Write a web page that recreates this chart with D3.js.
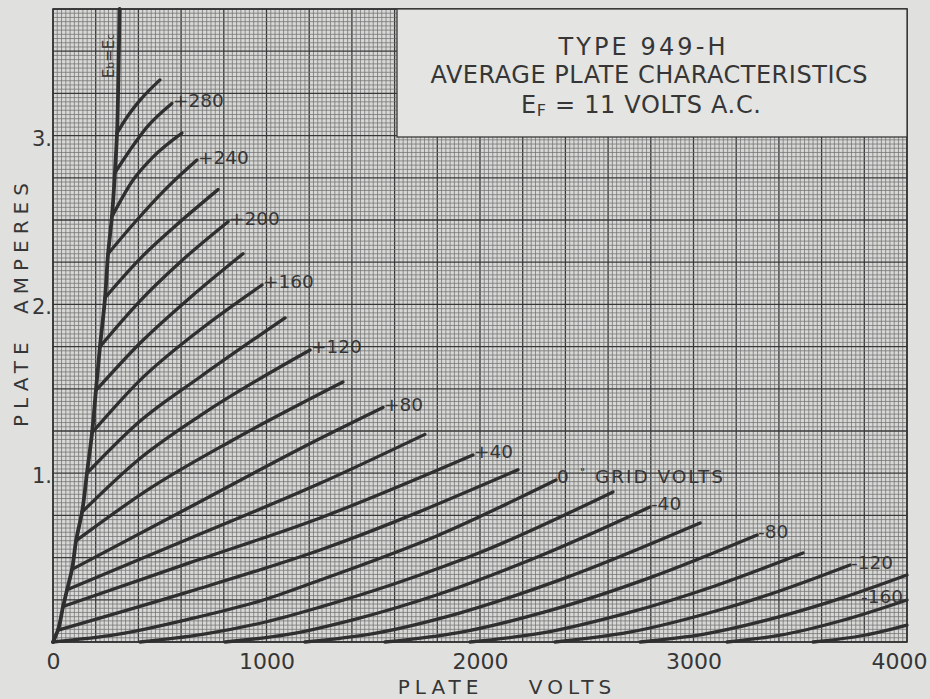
<!DOCTYPE html>
<html><head><meta charset="utf-8">
<script src="https://cdn.jsdelivr.net/npm/d3@7"></script>
<style>
html,body{margin:0;padding:0;background:#e0e0de;}
svg{display:block;}
text{font-family:"DejaVu Sans",sans-serif;fill:#363636;}
</style></head><body>
<svg id="chart" width="930" height="699"></svg>
<script>
// ---------- data (plate volts, plate amperes) ----------
const xTickValues = [0, 1000, 2000, 3000, 4000];
const yTickValues = [1, 2, 3];
const titleLines = ["TYPE 949-H", "AVERAGE PLATE CHARACTERISTICS"];
const filamentLine = ["E", "F", " = 11 VOLTS A.C."];
const xAxisTitle = "PLATE VOLTS";
const yAxisTitle = "PLATE AMPERES";

// locus Eb = Ec
const ebEcLine = [[0,0],[23,0.07],[47,0.21],[66,0.31],[89,0.43],[108,0.60],[136,0.77],[159,1.00],[183,1.24],[201,1.49],[220,1.75],[244,2.04],[258,2.30],[276,2.52],[290,2.78],[300,3.015],[306,3.33],[312,3.75]];

// positive grid curves
const curve_p300 = [[300,3.015],[347,3.11],[408,3.21],[501,3.33]];
const curve_p280 = [[290,2.78],[361,2.915],[440,3.05],[557,3.19]];
const curve_p260 = [[276,2.52],[375,2.737],[468,2.873],[604,3.015]];
const curve_p240 = [[258,2.30],[393,2.50],[525,2.68],[674,2.855]];
const curve_p220 = [[244,2.04],[407,2.27],[560,2.45],[773,2.68]];
const curve_p200 = [[220,1.75],[407,2.02],[595,2.25],[820,2.49]];
const curve_p180 = [[201,1.49],[407,1.77],[642,2.04],[890,2.30]];
const curve_p160 = [[183,1.24],[407,1.55],[689,1.85],[979,2.115]];
const curve_p140 = [[159,1.00],[400,1.30],[689,1.57],[1087,1.92]];
const curve_p120 = [[136,0.77],[400,1.08],[700,1.35],[1204,1.73]];
const curve_p100 = [[108,0.60],[454,0.91],[843,1.197],[1358,1.54]];
const curve_p80  = [[89,0.43],[642,0.80],[1237,1.197],[1546,1.39]];
const curve_p60  = [[66,0.31],[642,0.615],[1251,0.94],[1742,1.23]];
const curve_p40  = [[47,0.21],[642,0.47],[1251,0.735],[1967,1.108]];
const curve_p20  = [[23,0.07],[642,0.30],[1251,0.545],[2178,1.02]];
const curve_0    = [[0,0],[300,0.045],[642,0.137],[1000,0.255],[1251,0.367],[1800,0.63],[2356,0.96]];
// negative grid curves
const curve_n20  = [[408,0],[700,0.045],[1000,0.12],[1251,0.207],[1600,0.345],[2000,0.53],[2623,0.889]];
const curve_n40  = [[806,0],[1100,0.045],[1400,0.13],[1800,0.28],[2300,0.52],[2796,0.80]];
const curve_n60  = [[1180,0],[1500,0.05],[1900,0.17],[2400,0.38],[3031,0.705]];
const curve_n80  = [[1555,0],[1900,0.056],[2300,0.177],[2800,0.383],[3298,0.634]];
const curve_n100 = [[1953,0],[2300,0.055],[2700,0.175],[3100,0.332],[3513,0.527]];
const curve_n120 = [[2351,0],[2700,0.058],[3100,0.182],[3400,0.301],[3733,0.456]];
const curve_n140 = [[2750,0],[3050,0.047],[3400,0.149],[3700,0.263],[4000,0.397]];
const curve_n160 = [[3157,0],[3400,0.039],[3700,0.129],[4000,0.249]];
const curve_n180 = [[3560,0],[3800,0.04],[4000,0.10]];

const gridVolts = [300,280,260,240,220,200,180,160,140,120,100,80,60,40,20,0,-20,-40,-60,-80,-100,-120,-140,-160,-180];
const curveData = [curve_p300,curve_p280,curve_p260,curve_p240,curve_p220,curve_p200,curve_p180,curve_p160,curve_p140,curve_p120,curve_p100,curve_p80,curve_p60,curve_p40,curve_p20,curve_0,curve_n20,curve_n40,curve_n60,curve_n80,curve_n100,curve_n120,curve_n140,curve_n160,curve_n180];

const labelGrids = [280,240,200,160,120,80,40,0,-40,-80,-120,-160];
const labelTexts = ["+280","+240","+200","+160","+120","+80","+40","0","-40","-80","-120","-160"];

// ---------- drawing ----------
const svg = d3.select("#chart");
const L = 53, R = 907, T = 9, B = 642;
const x = d3.scaleLinear().domain([0,4000]).range([L,R]);
const y = d3.scaleLinear().domain([0,3.75]).range([B,T]);

// graph paper
svg.append("rect").attr("x",L).attr("y",T).attr("width",R-L).attr("height",B-T).attr("fill","#d8d8d6");
const g = svg.append("g");
d3.range(0,201).forEach(i=>{
  const xx=x(i*20);
  g.append("line").attr("x1",xx).attr("x2",xx).attr("y1",T).attr("y2",B)
   .attr("stroke", i%10===0?"#383838":"#727272")
   .attr("stroke-width", i%10===0?1.3:0.75);
});
d3.range(0,151).forEach(i=>{
  const yy=y(i*0.025);
  g.append("line").attr("y1",yy).attr("y2",yy).attr("x1",L).attr("x2",R)
   .attr("stroke", i%10===0?"#383838":"#727272")
   .attr("stroke-width", i%10===0?1.3:0.75);
});
svg.append("rect").attr("x",L).attr("y",T).attr("width",R-L).attr("height",B-T)
  .attr("fill","none").attr("stroke","#333").attr("stroke-width",1.6);

// title box
svg.append("rect").attr("x",397).attr("y",T).attr("width",R-397).attr("height",128)
  .attr("fill","#e4e4e2").attr("stroke","#3a3a3a").attr("stroke-width",1.3);
svg.append("text").attr("x",642).attr("y",55).attr("text-anchor","middle")
  .attr("font-size",24).attr("textLength",167).attr("lengthAdjust","spacing").text(titleLines[0]);
svg.append("text").attr("x",649).attr("y",83).attr("text-anchor","middle")
  .attr("font-size",24).attr("textLength",437).attr("lengthAdjust","spacing").text(titleLines[1]);
const t3 = svg.append("text").attr("x",641).attr("y",113).attr("text-anchor","middle")
  .attr("font-size",24).attr("textLength",240).attr("lengthAdjust","spacing");
t3.append("tspan").text(filamentLine[0]);
t3.append("tspan").attr("font-size",16).attr("dy",3).text(filamentLine[1]);
t3.append("tspan").attr("dy",-3).text(filamentLine[2]);

// curves
const line = d3.line().x(d=>x(d[0])).y(d=>y(d[1])).curve(d3.curveMonotoneX);
const curvesG = svg.append("g").attr("fill","none").attr("stroke","#2f2f2f")
  .attr("stroke-width",3.3).attr("stroke-linecap","round").attr("stroke-linejoin","round");
curveData.forEach((pts,i)=>{
  curvesG.append("path").attr("d",line(pts)).attr("data-grid",gridVolts[i]);
});
const lineY = d3.line().x(d=>x(d[0])).y(d=>y(d[1])).curve(d3.curveMonotoneY);
curvesG.append("path").attr("d",lineY(ebEcLine)).attr("stroke-width",3.8);

// Eb = Ec label
const eb = svg.append("text").attr("transform","translate(114,56) rotate(-90)")
  .attr("text-anchor","middle").attr("font-size",15);
eb.append("tspan").text("E");
eb.append("tspan").attr("font-size",11).text("b");
eb.append("tspan").text("=E");
eb.append("tspan").attr("font-size",11).text("c");

// curve labels
labelGrids.forEach((gv,i)=>{
  const pts = curveData[gridVolts.indexOf(gv)];
  const end = pts[pts.length-1];
  const ex = x(end[0]), ey = y(end[1]);
  const atEdge = end[0] >= 4000;
  svg.append("text")
    .attr("x", atEdge ? ex-4 : ex+1)
    .attr("y", ey-3+6.5)
    .attr("text-anchor", atEdge ? "end" : "start")
    .attr("font-size",18.5).text(labelTexts[i]);
});
// "0 '' GRID VOLTS"
{
  const pts = curve_0, end = pts[pts.length-1];
  const ex = x(end[0]), ey = y(end[1]);
  svg.append("text").attr("x",ex+24).attr("y",ey-4).attr("font-size",11).text("\"");
  svg.append("text").attr("x",ex+39).attr("y",ey+3.5).attr("font-size",18.5)
    .attr("textLength",128).attr("lengthAdjust","spacing").text("GRID VOLTS");
}

// axes
const xAxis = d3.axisBottom(x).tickValues(xTickValues).tickSize(0).tickPadding(11).tickFormat(d3.format("d"));
const xa = svg.append("g").attr("transform",`translate(0,${B})`).call(xAxis);
xa.select(".domain").remove();
xa.selectAll("text").attr("font-size",22).attr("font-family","DejaVu Sans").attr("fill","#363636");
xa.selectAll(".tick").filter(d=>d===4000).select("text").attr("text-anchor","end").attr("x",20);

const yAxis = d3.axisLeft(y).tickValues(yTickValues).tickSize(0).tickPadding(1).tickFormat(d=>d+".");
const ya = svg.append("g").attr("transform",`translate(${L},0)`).call(yAxis);
ya.select(".domain").remove();
ya.selectAll("text").attr("font-size",21).attr("dy","0.45em").attr("font-family","DejaVu Sans").attr("fill","#363636");

svg.append("text").attr("x",507).attr("y",694).attr("text-anchor","middle")
  .attr("font-size",20).attr("letter-spacing",5).attr("word-spacing",34)
  .text(xAxisTitle);
svg.append("text").attr("transform","translate(28,302) rotate(-90)").attr("text-anchor","middle")
  .attr("font-size",20).attr("letter-spacing",6).attr("word-spacing",10).text(yAxisTitle);
</script>
</body></html>
